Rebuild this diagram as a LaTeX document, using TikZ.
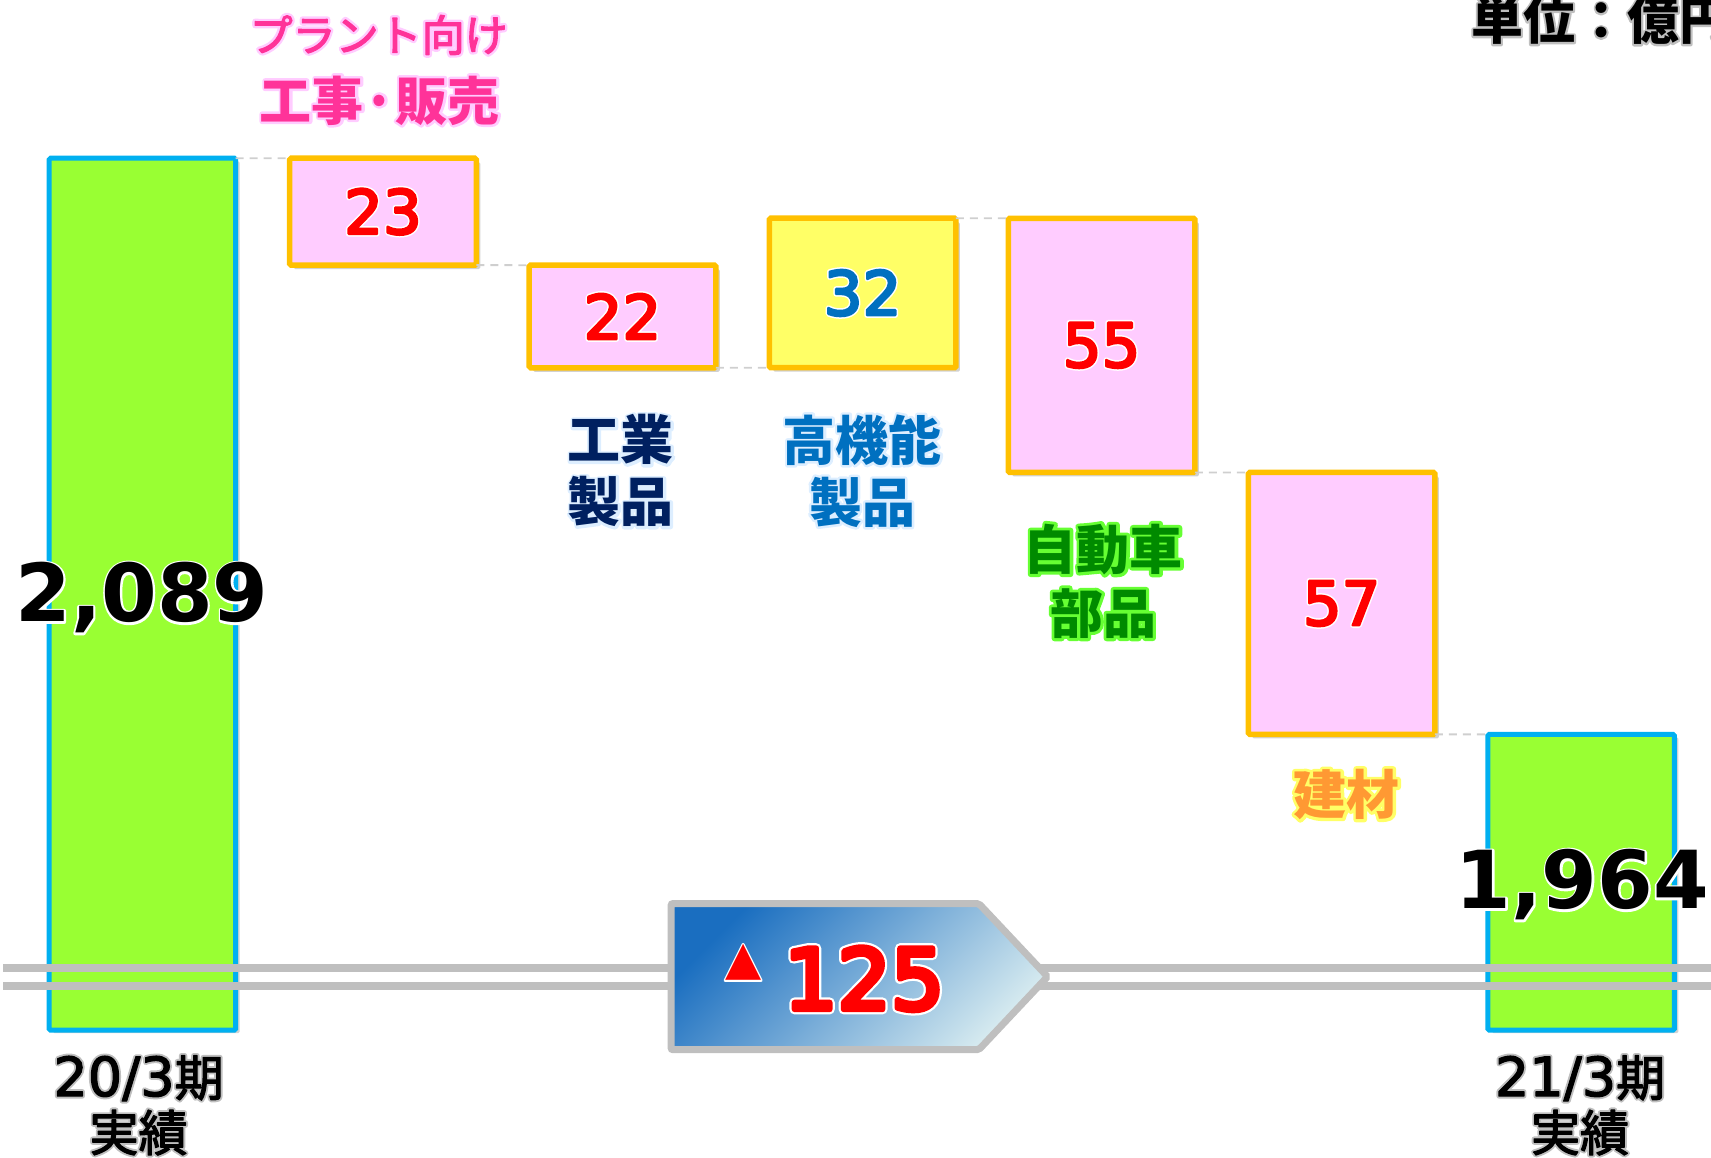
\documentclass[tikz,border=0pt]{standalone}
\usepackage{fontspec}
\setmainfont{DejaVu Sans}
\newfontfamily\jp{Noto Sans CJK JP}
\newfontfamily\dv{DejaVu Sans}
\usetikzlibrary{shadows}

\definecolor{barfill}{HTML}{99FF33}
\definecolor{barline}{HTML}{00B0F0}
\definecolor{pinkfill}{HTML}{FFCCFF}
\definecolor{orangeline}{HTML}{FFC000}
\definecolor{yellowfill}{HTML}{FFFF66}
\definecolor{navy}{HTML}{002060}
\definecolor{midblue}{HTML}{0070C0}
\definecolor{labgreen}{HTML}{008A00}
\definecolor{glowgreen}{HTML}{66FF33}
\definecolor{labpink}{HTML}{FF3399}
\definecolor{glowpink}{HTML}{FFCCFF}
\definecolor{laborange}{HTML}{FF9933}
\definecolor{glowyellow}{HTML}{FFFF66}
\definecolor{glowblue}{HTML}{DDEEFF}
\definecolor{brk}{HTML}{BFBFBF}
\definecolor{dashgray}{HTML}{CFCFCF}
\definecolor{arrdark}{HTML}{1A6EC0}
\definecolor{arrlight}{HTML}{D4E9EF}

% text with a coloured halo behind it
\newcommand\glowtxt[3]{\leavevmode\rlap{\color{#1}\special{pdf:literal direct 2 Tr #2 w 1 J 1 j}#3\special{pdf:literal direct 0 Tr}}#3}
% same, with the text itself slightly emboldened
\newcommand\glowbold[4]{\leavevmode\rlap{\color{#1}\special{pdf:literal direct 2 Tr #2 w 1 J 1 j}#4\special{pdf:literal direct 0 Tr}}\special{pdf:literal direct 2 Tr #3 w 1 j}#4\special{pdf:literal direct 0 Tr}}

\begin{document}
\begin{tikzpicture}[x=1.0912pt,y=-1.0912pt,
  bar/.style={draw=barline, fill=barfill, line width=5pt, minimum width=186.6pt,
    inner sep=0pt, outer sep=0pt, rounded corners=1.5pt,
    drop shadow={shadow xshift=4pt, shadow yshift=-3pt, opacity=0.3, fill=black!60}},
  valbox/.style={draw=orangeline, line width=5.5pt, minimum width=186.6pt,
    inner sep=0pt, outer sep=0pt, rounded corners=1.5pt,
    drop shadow={shadow xshift=4pt, shadow yshift=-4pt, opacity=0.3, fill=black!60},
    font=\dv\fontsize{61}{61}\selectfont},
  dbox/.style={valbox, fill=pinkfill, text=red},
  ubox/.style={valbox, fill=yellowfill, text=midblue},
  conn/.style={draw=dashgray, line width=1.8pt, dash pattern=on 8pt off 6pt},
  brkline/.style={draw=brk, line width=8pt},
  bignum/.style={font=\dv\bfseries\fontsize{80}{80}\selectfont, text=black, anchor=base, inner sep=0pt},
  lab/.style={align=center, inner sep=0pt},
]
\useasboundingbox (0,0) rectangle (1568,1061);
\clip (0,0) rectangle (1568,1061);

% bars and step boxes
\node[bar, minimum height=871.9pt] (b0) at (130.5,544.5) {};
\node[bar, minimum height=295.7pt] (b6) at (1449,808.5) {};
\node[dbox, minimum height=106.9pt] (b1) at (351,194) {\glowbold{white}{5.5}{2.5}{23}};
\node[dbox, minimum height=102.6pt] (b2) at (570.5,290) {\glowbold{white}{5.5}{2.5}{22}};
\node[ubox, minimum height=149.5pt] (b3) at (790.5,268.5) {\glowbold{white}{5.5}{2.5}{32}};
\node[dbox, minimum height=254.2pt] (b4) at (1009.5,316.5) {\glowbold{white}{5.5}{2.5}{55}};
\node[dbox, minimum height=261.9pt] (b5) at (1229.5,553) {\glowbold{white}{5.5}{2.5}{57}};

% dashed level connectors
\draw[conn] (b0.north east) -- (b1.north west);
\draw[conn] (b1.south east) -- (b2.north west);
\draw[conn] (b2.south east) -- (b3.south west);
\draw[conn] (b3.north east) -- (b4.north west);
\draw[conn] (b4.south east) -- (b5.north west);
\draw[conn] (b5.south east) -- (b6.north west);

% axis break lines
\draw[brkline] (3,887.5) -- (1568,887.5);
\draw[brkline] (3,903.5) -- (1568,903.5);

% total change arrow
\shade[draw=brk, line width=7pt, rounded corners=2pt, top color=arrdark,
  bottom color=arrlight, shading angle=45]
  (615,828) -- (897,828) -- (960,895) -- (897,962) -- (615,962) -- cycle;
\node[font=\dv\fontsize{47}{47}\selectfont, text=red, inner sep=0pt] (tri) at (681,882) {\glowtxt{white}{3}{▲}};
\node[font=\dv\fontsize{84}{84}\selectfont, text=red, inner sep=0pt] (tot) at (792,897) {\glowbold{white}{10}{5.5}{125}};

% big values
\node[bignum] (v0) at (130,570) {\glowtxt{white}{4}{2,089}};
\node[bignum] (v6) at (1450,833) {\glowtxt{white}{4}{1,964}};

% category labels
\node[lab, font=\jp\fontsize{43}{43}\selectfont, text=labpink] (l1a) at (347,32) {\glowbold{glowpink}{6}{1.2}{プラント向け}};
\node[lab, font=\jp\bfseries\fontsize{52}{52}\selectfont, text=labpink] (l1b) at (348,92) {\glowtxt{glowpink}{5}{工事·販売}};
\node[lab, font=\jp\bfseries\fontsize{53}{62}\selectfont, text=navy] (l2) at (569,431.5) {\glowtxt{glowblue}{5}{工業}\\\glowtxt{glowblue}{5}{製品}};
\node[lab, font=\jp\bfseries\fontsize{53}{62}\selectfont, text=midblue] (l3) at (790,431.5) {\glowtxt{glowblue}{5}{高機能}\\\glowtxt{glowblue}{5}{製品}};
\node[lab, font=\jp\bfseries\fontsize{53}{64}\selectfont, text=labgreen] (l4) at (1011,532.5) {\glowtxt{glowgreen}{6}{自動車}\\\glowtxt{glowgreen}{6}{部品}};
\node[lab, font=\jp\bfseries\fontsize{53}{53}\selectfont, text=laborange] (l5) at (1234,728) {\glowtxt{glowyellow}{6}{建材}};

% period labels
\node[lab, font=\jp\fontsize{49}{55}\selectfont, text=black] (p0) at (127,1013)
  {\glowbold{brk}{5}{1.2}{{\dv\fontsize{54}{55}\selectfont 20/3}期}\\\glowbold{brk}{5}{1.2}{実績}};
\node[lab, font=\jp\fontsize{49}{55}\selectfont, text=black] (p6) at (1448,1013)
  {\glowbold{brk}{5}{1.2}{{\dv\fontsize{54}{55}\selectfont 21/3}期}\\\glowbold{brk}{5}{1.2}{実績}};

% unit
\node[lab, anchor=west, font=\jp\bfseries\fontsize{52}{52}\selectfont, text=black] (unit) at (1348,18) {\glowtxt{brk}{4}{単位：億円}};
\end{tikzpicture}
\end{document}
